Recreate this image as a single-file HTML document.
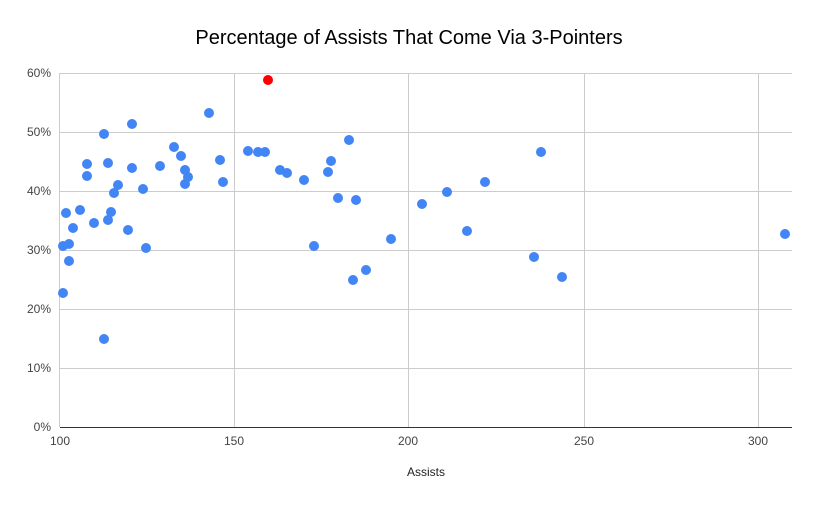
<!DOCTYPE html>
<html><head><meta charset="utf-8"><style>
body{margin:0;background:#fff}
text{font-family:"Liberation Sans",Arial,sans-serif}
</style></head><body>
<svg width="818" height="505" viewBox="0 0 818 505" xmlns="http://www.w3.org/2000/svg">
<rect width="818" height="505" fill="#fff"/>
<text x="409" y="44" font-size="20" text-anchor="middle" fill="#000">Percentage of Assists That Come Via 3-Pointers</text>
<g stroke="#cccccc" stroke-width="1">
<line x1="60" y1="73.5" x2="792" y2="73.5"/>
<line x1="60" y1="132.5" x2="792" y2="132.5"/>
<line x1="60" y1="191.5" x2="792" y2="191.5"/>
<line x1="60" y1="250.5" x2="792" y2="250.5"/>
<line x1="60" y1="309.5" x2="792" y2="309.5"/>
<line x1="60" y1="368.5" x2="792" y2="368.5"/>
<line x1="59.5" y1="73" x2="59.5" y2="427"/>
<line x1="234.5" y1="73" x2="234.5" y2="427"/>
<line x1="408.5" y1="73" x2="408.5" y2="427"/>
<line x1="584.5" y1="73" x2="584.5" y2="427"/>
<line x1="758.5" y1="73" x2="758.5" y2="427"/>
</g>
<line x1="60" y1="427.5" x2="792" y2="427.5" stroke="#333" stroke-width="1"/>
<g font-size="12" fill="#444" text-anchor="end">
<text x="51" y="77">60%</text><text x="51" y="136">50%</text><text x="51" y="195">40%</text>
<text x="51" y="254">30%</text><text x="51" y="313">20%</text><text x="51" y="372">10%</text><text x="51" y="431">0%</text>
</g>
<g font-size="12" fill="#444" text-anchor="middle">
<text x="60" y="445">100</text><text x="234" y="445">150</text><text x="408" y="445">200</text>
<text x="584" y="445">250</text><text x="758" y="445">300</text>
</g>
<text x="426" y="476" font-size="12" text-anchor="middle" fill="#222">Assists</text>
<g fill="#4285f4">
<circle cx="63" cy="246" r="5"/><circle cx="63" cy="293" r="5"/><circle cx="66" cy="213" r="5"/><circle cx="69" cy="244" r="5"/>
<circle cx="69" cy="261" r="5"/><circle cx="73" cy="228" r="5"/><circle cx="80" cy="210" r="5"/><circle cx="87" cy="164" r="5"/>
<circle cx="87" cy="176" r="5"/><circle cx="94" cy="223" r="5"/><circle cx="104" cy="134" r="5"/><circle cx="108" cy="163" r="5"/>
<circle cx="108" cy="220" r="5"/><circle cx="111" cy="212" r="5"/><circle cx="104" cy="339" r="5"/><circle cx="114" cy="193" r="5"/>
<circle cx="118" cy="185" r="5"/><circle cx="128" cy="230" r="5"/><circle cx="132" cy="124" r="5"/>
<circle cx="132" cy="168" r="5"/><circle cx="143" cy="189" r="5"/><circle cx="146" cy="248" r="5"/><circle cx="160" cy="166" r="5"/>
<circle cx="174" cy="147" r="5"/><circle cx="181" cy="156" r="5"/><circle cx="185" cy="170" r="5"/><circle cx="185" cy="184" r="5"/>
<circle cx="188" cy="177" r="5"/><circle cx="209" cy="113" r="5"/><circle cx="220" cy="160" r="5"/><circle cx="223" cy="182" r="5"/>
<circle cx="248" cy="151" r="5"/><circle cx="258" cy="152" r="5"/><circle cx="265" cy="152" r="5"/><circle cx="280" cy="170" r="5"/>
<circle cx="287" cy="173" r="5"/><circle cx="304" cy="180" r="5"/><circle cx="314" cy="246" r="5"/><circle cx="331" cy="161" r="5"/>
<circle cx="328" cy="172" r="5"/><circle cx="349" cy="140" r="5"/><circle cx="356" cy="200" r="5"/><circle cx="338" cy="198" r="5"/>
<circle cx="353" cy="280" r="5"/><circle cx="366" cy="270" r="5"/><circle cx="391" cy="239" r="5"/><circle cx="422" cy="204" r="5"/>
<circle cx="447" cy="192" r="5"/><circle cx="467" cy="231" r="5"/><circle cx="485" cy="182" r="5"/><circle cx="534" cy="257" r="5"/>
<circle cx="541" cy="152" r="5"/><circle cx="562" cy="277" r="5"/><circle cx="785" cy="234" r="5"/>
</g>
<circle cx="268" cy="80" r="5" fill="#ff0000"/>
</svg>
</body></html>
